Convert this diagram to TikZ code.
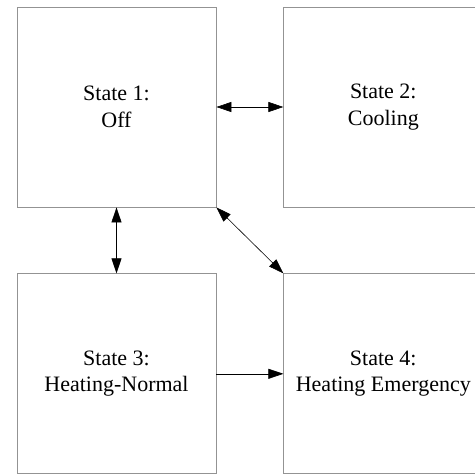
\documentclass[tikz,border=0pt]{standalone}
\usepackage{fontspec}
\setmainfont{Liberation Serif}
\usetikzlibrary{positioning, arrows.meta}
\tikzset{
  statebox/.style={draw=gray!85, line width=0.8pt, minimum width=199pt, minimum height=200pt,
    inner sep=0pt, align=center, font=\fontsize{22}{26.5}\selectfont},
  link/.style={line width=0.6pt, {Triangle[length=15pt,width=10pt]}-{Triangle[length=15pt,width=10pt]}},
  onelink/.style={line width=0.6pt, -{Triangle[length=15pt,width=10pt]}}
}

\begin{document}
\begin{tikzpicture}[x=1pt,y=1pt]
\useasboundingbox (0,0) rectangle (475,-474);
\node[statebox] (off) at (116.5,-107) {State 1:\\Off};
\node[statebox, right=67pt of off] (cool) {State 2:\\Cooling};
\node[statebox, below=66pt of off] (heatn) {State 3:\\Heating-Normal};
\node[statebox, below=66pt of cool] (heate) {State 4:\\Heating Emergency};
\draw[link] (off) -- (cool);
\draw[link] (off) -- (heatn);
\draw[link] (off.south east) -- (heate.north west);
\draw[onelink] (heatn) -- (heate);
\end{tikzpicture}
\end{document}
